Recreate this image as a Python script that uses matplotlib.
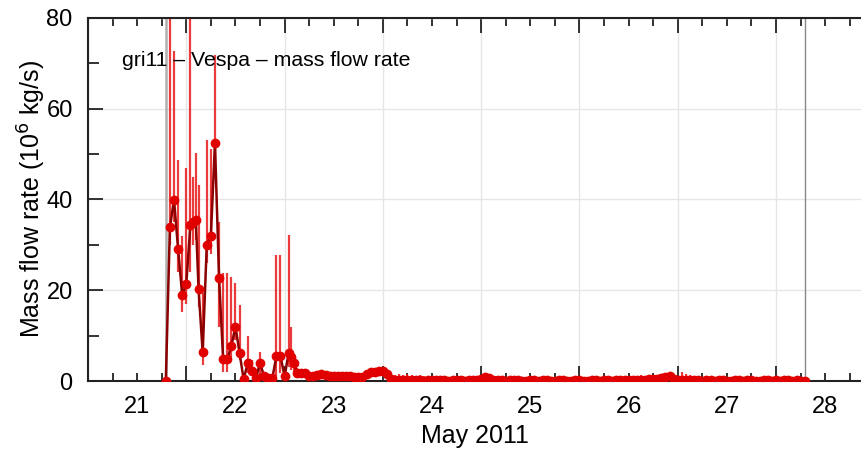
import numpy as np
import matplotlib
matplotlib.use("Agg")
import matplotlib.pyplot as plt
import matplotlib.dates as mdates
from matplotlib.ticker import MultipleLocator, NullFormatter, FuncFormatter
from datetime import datetime, timedelta

plt.rcParams['font.family'] = ['Liberation Sans', 'DejaVu Sans']

# hours after 21 May 2011 00:00 UTC
hours_main = [19, 20, 21, 22, 23, 24, 25, 25.67, 26.33,
              27, 28, 29, 30, 31, 32, 33, 34, 35, 36, 37, 38, 39, 40,
              41, 42, 43, 44, 45, 46, 47, 48, 49, 49.67, 50.33, 51]
rate_main = [0.0, 33.9, 39.9, 29.1, 19.0, 21.4, 34.4, 35.1, 35.5,
             20.2, 6.3, 30.0, 32.0, 52.4, 22.7, 4.8, 4.8, 7.7, 12.0, 6.2, 0.4, 3.9, 2.3,
             0.6, 4.0, 1.0, 0.6, 0.6, 5.5, 5.5, 1.0, 6.2, 5.2, 4.0, 1.7]
low_main = [0.0, 30.0, 35.0, 24.0, 15.3, 17.0, 24.0, 30.0, 31.0,
            16.4, 3.5, 26.0, 28.0, 45.0, 12.0, 2.0, 2.0, 5.3, 9.0, 4.6, 0.1, 1.7, 1.2,
            0.2, 0.9, 0.4, 0.2, 0.2, 1.0, 1.7, 0.4, 3.0, 2.5, 2.0, 1.0]
high_main = [0.0, 95.0, 72.7, 48.7, 32.0, 47.0, 95.0, 45.0, 50.3,
             43.3, 19.5, 53.0, 51.2, 71.8, 35.0, 23.8, 23.8, 23.0, 21.5, 16.7, 1.5, 10.0, 4.6,
             1.5, 6.5, 2.0, 1.2, 1.2, 27.8, 27.8, 2.5, 32.2, 12.0, 6.0, 2.8]

# hourly from 52 h to 175 h
hours_tail = np.arange(52, 176)
rate_tail = [1.8, 1.7, 1.2, 1.0, 1.4, 1.5, 1.4, 1.2, 1.1, 1.0, 1.2, 1.1, 1.0, 0.9, 0.8, 0.9, 1.6, 1.9, 2.0, 2.1,
             2.3, 1.5, 0.5, 0.3, 0.2, 0.3, 0.2, 0.2, 0.3, 0.2, 0.1, 0.2, 0.2, 0.3, 0.2, 0.2, 0.1, 0.2, 0.2, 0.2, 0.1, 0.2, 0.2, 0.3,
             0.5, 0.8, 0.7, 0.3, 0.2, 0.2, 0.1, 0.2, 0.2, 0.2, 0.1, 0.1, 0.2, 0.2, 0.1, 0.2, 0.2, 0.1, 0.1, 0.2, 0.2, 0.1, 0.1, 0.2,
             0.2, 0.1, 0.1, 0.2, 0.2, 0.1, 0.2, 0.2, 0.1, 0.2, 0.2, 0.3, 0.2, 0.3, 0.2, 0.3, 0.3, 0.4, 0.4, 0.5, 0.6, 0.9, 1.0, 0.5,
             0.3, 0.2, 0.2, 0.3, 0.2, 0.2, 0.1, 0.2, 0.2, 0.1, 0.2, 0.2, 0.1, 0.1, 0.2, 0.2, 0.1, 0.2, 0.2, 0.1, 0.1, 0.2, 0.2, 0.1,
             0.2, 0.1, 0.2, 0.2, 0.1, 0.2, 0.1, 0.0]
high_tail = [2.6, 2.4, 1.9, 1.6, 2.0, 2.1, 2.0, 1.8, 1.7, 1.6, 1.8, 1.7, 1.6, 1.5, 1.4, 1.5, 2.2, 2.5, 2.6, 2.7,
             3.0, 2.2, 1.5, 1.4, 1.5, 1.3, 1.5, 1.4, 1.2, 1.3, 1.0, 1.2, 1.1, 0.8, 1.0, 0.9, 0.6, 0.8, 0.7, 0.6, 0.5, 0.6, 0.5, 0.7,
             1.0, 1.3, 1.1, 0.7, 0.5, 0.5, 0.3, 0.4, 0.5, 0.4, 0.3, 0.3, 0.4, 0.4, 0.3, 0.4, 0.4, 0.3, 0.3, 0.4, 0.4, 0.3, 0.3, 0.4,
             0.4, 0.3, 0.3, 0.4, 0.4, 0.3, 0.4, 0.4, 0.3, 0.5, 0.6, 0.8, 0.6, 1.2, 0.9, 1.3, 1.2, 1.3, 1.4, 1.2, 1.5, 1.6, 1.4, 1.0,
             1.2, 1.9, 1.5, 1.4, 0.6, 0.5, 0.3, 0.4, 0.4, 0.3, 0.4, 0.4, 0.3, 0.3, 0.4, 0.4, 0.3, 0.4, 0.4, 0.3, 0.3, 0.4, 0.4, 0.3,
             0.4, 0.3, 0.4, 0.4, 0.3, 0.4, 0.3, 0.1]

eruption_start = 19   # hours
eruption_end = 175

t0 = datetime(2011, 5, 21)
hours = list(hours_main) + list(hours_tail)
rate = np.array(rate_main + rate_tail)
low = np.array(low_main + rate_tail)
high = np.array(high_main + high_tail)
x = mdates.date2num([t0 + timedelta(hours=float(h)) for h in hours])

fig = plt.figure(figsize=(8.61, 4.49), dpi=100)
ax = fig.add_axes([0.1022, 0.1514, 0.8978, 0.8086])

ax.axvline(mdates.date2num(t0 + timedelta(hours=eruption_start)), color='#b0b0b0', lw=1.8, zorder=1)
ax.axvline(mdates.date2num(t0 + timedelta(hours=eruption_end)), color='#888888', lw=1.0, zorder=1)

ax.vlines(x, low, high, colors='#e8191b', lw=1.6, alpha=0.85, zorder=2)
ax.plot(x, rate, color='#8b0000', lw=1.8, zorder=3)
ax.plot(x, rate, 'o', color='#e00000', ms=6, mec='#e00000', zorder=4)

x0 = mdates.date2num(t0)
ax.set_xlim(x0, x0 + 7.864)
ax.set_ylim(0, 80)

ax.xaxis.set_major_locator(mdates.DayLocator())
ax.xaxis.set_major_formatter(NullFormatter())
ax.xaxis.set_minor_locator(mdates.HourLocator(byhour=[6, 12, 18]))


def day_label(v, pos):
    d = mdates.num2date(v)
    return str(d.day) if d.hour == 12 else ''


ax.xaxis.set_minor_formatter(FuncFormatter(day_label))
ax.yaxis.set_major_locator(MultipleLocator(20))
ax.yaxis.set_minor_locator(MultipleLocator(10))

ax.tick_params(which='both', direction='in', top=True, right=False, labelsize=17, color='#222222')
ax.tick_params(which='major', length=11, width=1.3)
ax.tick_params(which='minor', length=6, width=1.3)
ax.tick_params(axis='x', which='both', pad=11)
ax.tick_params(axis='y', which='major', pad=11)
ax.tick_params(axis='y', which='minor', length=8)

for s in ('left', 'top', 'bottom'):
    ax.spines[s].set_linewidth(1.5)
    ax.spines[s].set_color('#222222')
ax.spines['right'].set_visible(False)

ax.set_axisbelow(True)
ax.grid(True, which='major', color='#e6e6e6', lw=1)

ax.set_xlabel('May 2011', fontsize=18, labelpad=4)
ax.set_ylabel('Mass flow rate (10$^6$ kg/s)', fontsize=18, labelpad=-1)
ax.text(0.044, 0.884, 'gri11 \u2013 Vespa \u2013 mass flow rate', transform=ax.transAxes,
        fontsize=15.3, va='center', ha='left', zorder=5)

fig.savefig('out.png', dpi=100)
